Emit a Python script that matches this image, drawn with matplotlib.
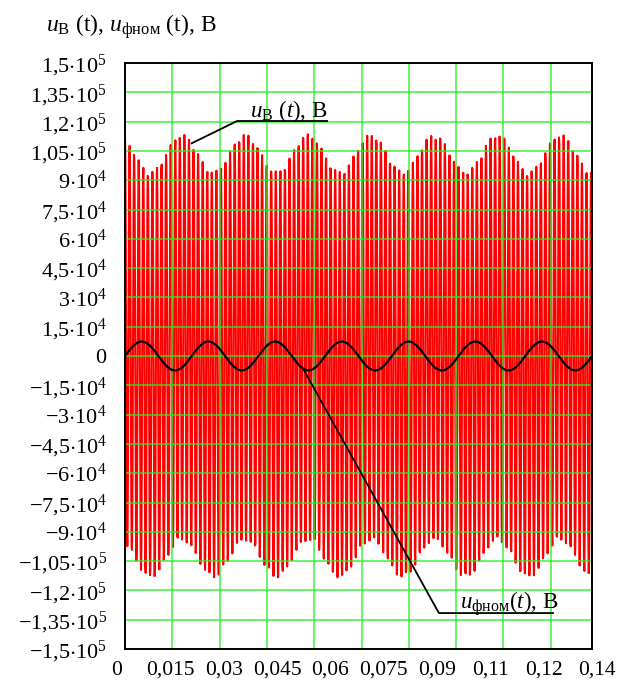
import numpy as np
import matplotlib
matplotlib.use("Agg")
import matplotlib.pyplot as plt

plt.rcParams['font.family'] = ['Liberation Serif', 'DejaVu Serif']
plt.rcParams['mathtext.fontset'] = 'custom'
plt.rcParams['mathtext.rm'] = 'Liberation Serif'
plt.rcParams['mathtext.it'] = 'Liberation Serif:italic'
plt.rcParams['mathtext.bf'] = 'Liberation Serif:bold'

# ---- data (parameters) ----
t_start, t_end, t_step = 0.0, 0.14, 1e-4
# u_B(t): high-frequency carrier plus slow offset
carrier_amp = 104000.0
carrier_freq = 730.0
offset_amp = 9500.0
offset_freq = 52.9
offset_peak_time = 0.01709
# u_fnom(t): 50 Hz sinusoid
fnom_amp = 7400.0
fnom_freq = 50.0

y_tick_values = [1.5e5, 1.35e5, 1.2e5, 1.05e5, 9e4, 7.5e4, 6e4, 4.5e4, 3e4, 1.5e4, 0,
                 -1.5e4, -3e4, -4.5e4, -6e4, -7.5e4, -9e4, -1.05e5, -1.2e5, -1.35e5, -1.5e5]
y_mantissas = ['1{,}5', '1{,}35', '1{,}2', '1{,}05', '9', '7{,}5', '6', '4{,}5', '3', '1{,}5', '0',
               '-1{,}5', '-3', '-4{,}5', '-6', '-7{,}5', '-9', '-1{,}05', '-1{,}2', '-1{,}35', '-1{,}5']
y_exponents = [5, 5, 5, 5, 4, 4, 4, 4, 4, 4, None, 4, 4, 4, 4, 4, 4, 5, 5, 5, 5]
y_tick_labels = [('$' + m + r'{\cdot}10^{%d}$' % e) if e is not None else '$' + m + '$'
                 for m, e in zip(y_mantissas, y_exponents)]
x_tick_labels = ['0', '0,015', '0,03', '0,045', '0,06', '0,075', '0,09', '0,11', '0,12', '0,14']
x_grid_step = 0.01418

t = np.arange(t_start, t_end + t_step / 2, t_step)
u_B = carrier_amp * np.cos(2 * np.pi * carrier_freq * t) + \
      offset_amp * np.cos(2 * np.pi * offset_freq * (t - offset_peak_time))
u_fnom = fnom_amp * np.sin(2 * np.pi * fnom_freq * t)

# ---- figure ----
W, H = 619, 688
fig = plt.figure(figsize=(W / 100, H / 100), dpi=100)
ax = fig.add_axes([125 / W, 39 / H, 467 / W, 586 / H])

ax.plot(t, u_B, color='#ff0000', lw=1.5, zorder=1.5)
ax.plot(t, u_fnom, color='black', lw=1.6, zorder=3)

ax.set_xlim(0, 0.14)
ax.set_ylim(-1.5e5, 1.5e5)

ax.set_yticks(y_tick_values)
ax.set_yticklabels(y_tick_labels, fontsize=16)
ax.tick_params(axis='y', length=0, pad=13)
ax.set_xticks([])
ax.set_xticks(np.arange(x_grid_step, 0.14 - 1e-6, x_grid_step), minor=True)
ax.tick_params(axis='x', which='both', length=0, labelbottom=False)

ax.set_axisbelow(False)
ax.grid(True, axis='y', which='major', color='#22ee22', lw=1.2, alpha=0.8)
ax.grid(True, axis='x', which='minor', color='#22ee22', lw=1.2, alpha=0.8)

for s in ax.spines.values():
    s.set_color('black')
    s.set_linewidth(1.4)
    s.set_zorder(5)

# x tick labels (Mathcad-style, evenly spread)
n = len(x_tick_labels)
x_first, x_last = -8 / 467, 1 + 5 / 467
for i, lab in enumerate(x_tick_labels):
    xp = x_first + (x_last - x_first) * i / (n - 1)
    ax.text(xp, -12 / 586, lab, transform=ax.transAxes, ha='center', va='top', fontsize=15.5)

# axis title at top-left
fig.text(46 / W, 1 - 32 / H, r'$u_{\mathrm{В}}$ (t), $u_{\mathrm{фном}}$ (t), В',
         fontsize=17, ha='left', va='baseline')

# annotation leaders
ax.plot([0.0200, 0.0336, 0.0606], [108900, 120300, 120300], color='black', lw=1.3, zorder=4)
ax.text(0.0375, 122500, r'$u_{\mathrm{В}}$ $(t)$, В', fontsize=16.5, ha='left', va='baseline', zorder=4)

ax.plot([0.0534, 0.0941, 0.1283], [-6500, -131600, -131600], color='black', lw=1.3, zorder=4)
ax.text(0.1003, -129200, r'$u_{\mathrm{фном}}(t)$, В', fontsize=16.5, ha='left', va='baseline', zorder=4)

fig.savefig('out.png', dpi=100)
